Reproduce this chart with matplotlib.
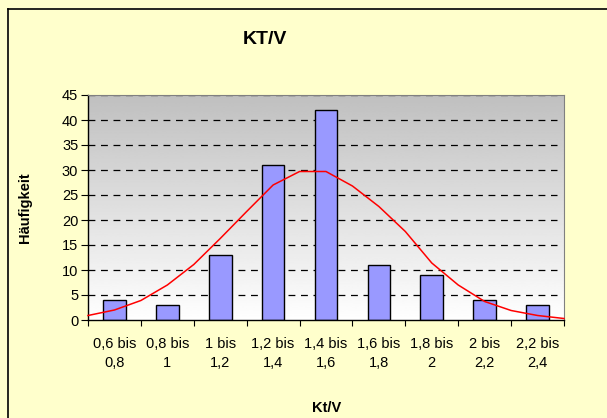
import numpy as np
import matplotlib
matplotlib.use('Agg')
import matplotlib.pyplot as plt
from matplotlib.lines import Line2D

plt.rcParams['font.family'] = ['Liberation Sans', 'DejaVu Sans']

# Class labels and counts
categories = ['0,6 bis\n0,8', '0,8 bis\n1', '1 bis\n1,2', '1,2 bis\n1,4', '1,4 bis\n1,6',
              '1,6 bis\n1,8', '1,8 bis\n2', '2 bis\n2,2', '2,2 bis\n2,4']
counts = [4, 3, 13, 31, 42, 11, 9, 4, 3]

# Red normal curve, read at Kt/V steps of 0.1
curve_kt = [0.6, 0.7, 0.8, 0.9, 1.0, 1.1, 1.2, 1.3, 1.4, 1.5,
            1.6, 1.7, 1.8, 1.9, 2.0, 2.1, 2.2, 2.3, 2.4]
curve_val = [0.9, 2.0, 3.9, 7.0, 11.1, 16.3, 21.7, 27.0, 29.7, 29.7,
             26.8, 22.7, 17.7, 11.4, 7.0, 3.7, 1.9, 0.9, 0.3]

W, H = 607, 418
fig = plt.figure(figsize=(W / 100, H / 100), dpi=100)
fig.patch.set_facecolor('#FFFFCC')

# chart border (left and top edges visible)
fig.add_artist(Line2D([8 / W, 8 / W], [0, 1 - 9 / H], color='black', lw=1.2,
                      transform=fig.transFigure))
fig.add_artist(Line2D([8 / W, 1], [1 - 9 / H, 1 - 9 / H], color='black', lw=1.2,
                      transform=fig.transFigure))

ax = fig.add_axes([88 / W, 1 - 320 / H, (564 - 88) / W, (320 - 95) / H])

# grey-to-white gradient background (grey at top)
grad = np.linspace(0.75, 1.0, 256).reshape(-1, 1)
ax.imshow(grad, cmap='gray', vmin=0, vmax=1, aspect='auto',
          extent=[-0.5, 8.5, 0, 45], origin='upper', zorder=0)
ax.set_xlim(-0.5, 8.5)
ax.set_ylim(0, 45)

x = np.arange(len(categories))
for y in range(5, 46, 5):
    ax.axhline(y, xmin=0, xmax=0.985, color='black', lw=0.9, ls=(0, (5.5, 4.5)), zorder=1)

ax.bar(x, counts, width=0.43, color='#9999FF', edgecolor='black', linewidth=1.0, zorder=2)

curve_x = [(k - 0.7) / 0.2 for k in curve_kt]
ax.plot(curve_x, curve_val, color='red', lw=1.1, zorder=3, clip_on=False)

ax.spines['top'].set_color('#808080')
ax.spines['top'].set_linewidth(0.8)
ax.spines['right'].set_color('#808080')
ax.spines['right'].set_linewidth(0.8)
ax.spines['left'].set_linewidth(1.0)
ax.spines['bottom'].set_linewidth(1.0)

ax.set_yticks(range(0, 46, 5))
ax.tick_params(axis='y', direction='out', length=5, width=0.8, labelsize=10.5, pad=2)
ax.set_xticks(np.arange(-0.5, 9, 1))
ax.set_xticklabels([])
ax.tick_params(axis='x', direction='out', length=4, width=0.8)
ax.set_xticks(x, minor=True)
ax.set_xticklabels(categories, minor=True, fontsize=10.5, linespacing=1.45)
ax.tick_params(axis='x', which='minor', length=0, pad=12)

fig.text(265 / W, 1 - 40 / H, 'KT/V', ha='center', va='center', fontsize=14, fontweight='bold')
fig.text(25 / W, 1 - 208 / H, 'Häufigkeit', ha='center', va='center', rotation=90,
         fontsize=10.5, fontweight='bold')
fig.text(327 / W, 1 - 408 / H, 'Kt/V', ha='center', va='center', fontsize=10.5, fontweight='bold')

fig.savefig('out.png', dpi=100, facecolor=fig.get_facecolor())
